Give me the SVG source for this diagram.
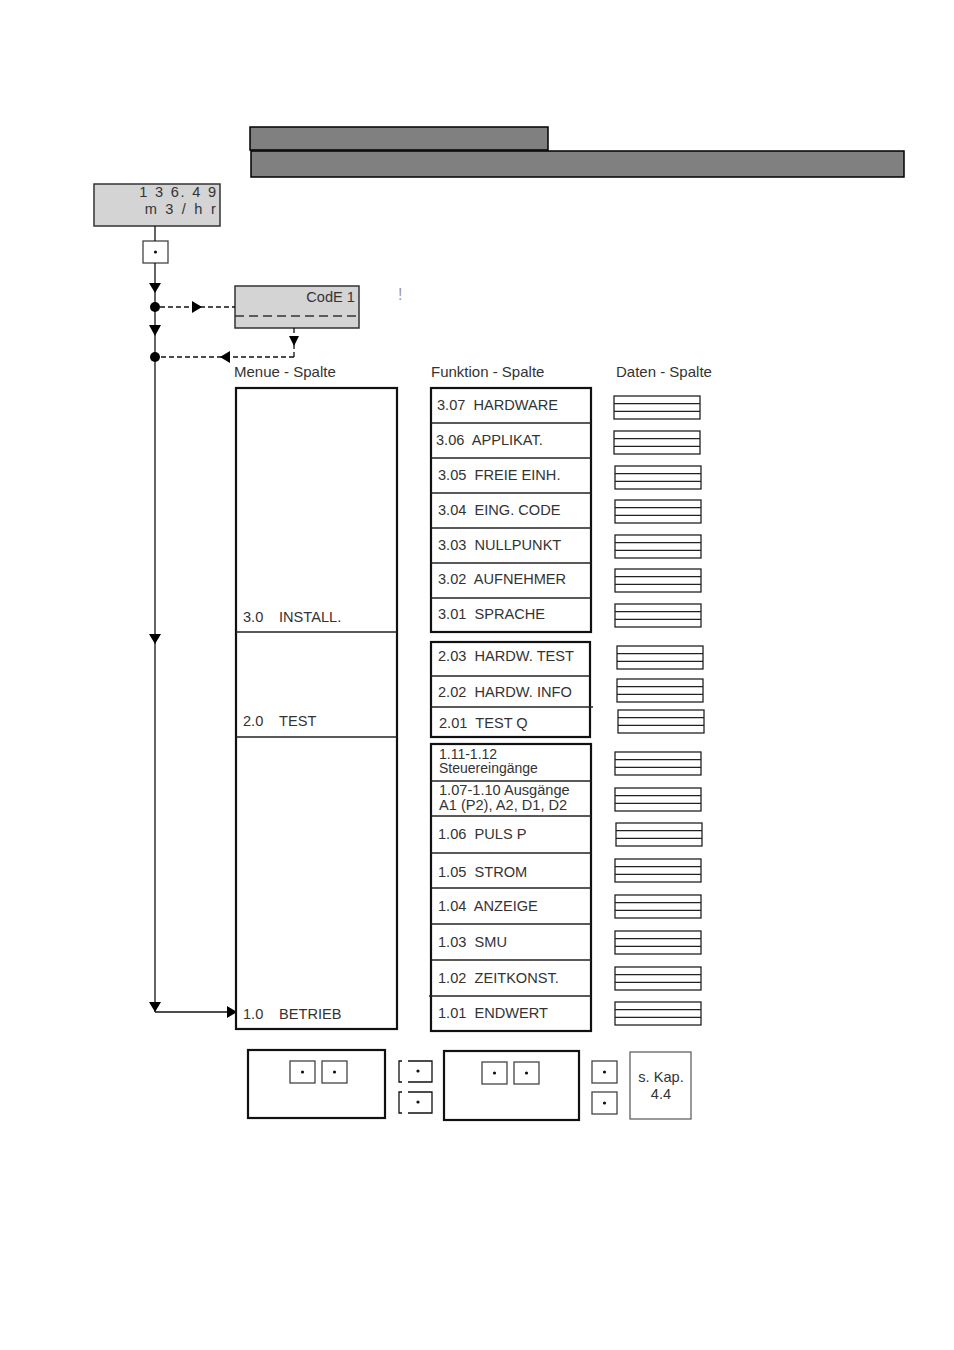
<svg xmlns="http://www.w3.org/2000/svg" width="954" height="1350" viewBox="0 0 954 1350">
<style>
text{font-family:"Liberation Sans",Arial,sans-serif;font-size:14.6px;fill:#333}
.lbl{font-size:15px}
.sm{font-size:14px}
.bar{fill:#808080;stroke:#000;stroke-width:1.5}
.disp{fill:#d4d4d4;stroke:#333;stroke-width:1.5}
.col{fill:#fff;stroke:#111;stroke-width:2.2}
.div{stroke:#222;stroke-width:1.3;fill:none}
.data{fill:#fff;stroke:#222;stroke-width:1.3}
.key{fill:#fff;stroke:#444;stroke-width:1.3}
.ln{stroke:#111;stroke-width:1.3;fill:none}
.dash{stroke:#111;stroke-width:1.3;fill:none;stroke-dasharray:5 3}
.ah{fill:#000}
</style>
<defs>
<g id="db"><rect class="data" x="0" y="0" width="86" height="23"/><line class="div" x1="0" y1="7.7" x2="86" y2="7.7"/><line class="div" x1="0" y1="15.3" x2="86" y2="15.3"/></g>
<g id="kb"><rect class="key" x="0" y="0" width="25" height="22"/><circle cx="12.5" cy="11" r="1.6" fill="#111"/></g>
</defs>

<g id="header">
<rect class="bar" x="250" y="127" width="298" height="23"/>
<rect class="bar" x="251" y="151" width="653" height="26"/>
</g>

<g id="display">
<rect class="disp" x="94" y="184" width="126" height="42"/>
<text x="218" y="197" text-anchor="end" xml:space="preserve" style="letter-spacing:1.8px">1 3 6. 4 9</text>
<text x="218" y="214" text-anchor="end" xml:space="preserve" style="letter-spacing:2.2px">m 3 / h r</text>
</g>

<g id="key-top"><use href="#kb" x="143" y="241"/></g>

<g id="code">
<rect class="disp" x="235" y="286" width="124" height="42"/>
<line x1="235" y1="316" x2="359" y2="316" stroke="#333" stroke-width="1.3" stroke-dasharray="9 5"/>
<text x="355" y="302" text-anchor="end">CodE 1</text>
</g>
<text x="398" y="300" style="font-size:16px;fill:#999">!</text>

<g id="connectors">
<line class="ln" x1="155" y1="226" x2="155" y2="241"/>
<line class="ln" x1="155" y1="263" x2="155" y2="1012"/>
<line class="ln" x1="155" y1="1012" x2="230" y2="1012"/>
<polygon class="ah" points="149,283 161,283 155,293"/>
<polygon class="ah" points="149,325 161,325 155,336"/>
<polygon class="ah" points="149,634 161,634 155,644"/>
<polygon class="ah" points="149,1002 161,1002 155,1012"/>
<polygon class="ah" points="227,1006 237,1012 227,1018"/>
<circle cx="155" cy="307" r="5" fill="#000"/>
<circle cx="155" cy="357" r="5" fill="#000"/>
<line class="dash" x1="160" y1="307" x2="235" y2="307"/>
<polygon class="ah" points="192,301 202,307 192,313"/>
<line class="dash" x1="294" y1="328" x2="294" y2="357"/>
<polygon class="ah" points="289,336 299,336 294,346"/>
<line class="dash" x1="294" y1="357" x2="160" y2="357"/>
<polygon class="ah" points="230,351 220,357 230,363"/>
</g>

<g id="labels">
<text class="lbl" x="234" y="377">Menue - Spalte</text>
<text class="lbl" x="431" y="377">Funktion - Spalte</text>
<text class="lbl" x="616" y="377">Daten - Spalte</text>
</g>

<g id="menu">
<rect class="col" x="236" y="388" width="161" height="641"/>
<line class="div" x1="236" y1="632" x2="397" y2="632"/>
<line class="div" x1="236" y1="737" x2="397" y2="737"/>
<text x="243" y="622">3.0</text><text x="279" y="622">INSTALL.</text>
<text x="243" y="726">2.0</text><text x="279" y="726">TEST</text>
<text x="243" y="1019">1.0</text><text x="279" y="1019">BETRIEB</text>
</g>

<g id="func3">
<rect class="col" x="431" y="388" width="160" height="244"/>
<line class="div" x1="431" y1="423" x2="591" y2="423"/>
<line class="div" x1="431" y1="458" x2="591" y2="458"/>
<line class="div" x1="431" y1="493" x2="591" y2="493"/>
<line class="div" x1="431" y1="528" x2="591" y2="528"/>
<line class="div" x1="431" y1="563" x2="591" y2="563"/>
<line class="div" x1="431" y1="598" x2="591" y2="598"/>
<text x="437" y="410" xml:space="preserve">3.07  HARDWARE</text>
<text x="436" y="445" xml:space="preserve">3.06  APPLIKAT.</text>
<text x="438" y="480" xml:space="preserve">3.05  FREIE EINH.</text>
<text x="438" y="515" xml:space="preserve">3.04  EING. CODE</text>
<text x="438" y="550" xml:space="preserve">3.03  NULLPUNKT</text>
<text x="438" y="584" xml:space="preserve">3.02  AUFNEHMER</text>
<text x="438" y="619" xml:space="preserve">3.01  SPRACHE</text>
</g>

<g id="func2">
<rect class="col" x="431" y="642" width="159" height="95"/>
<line class="div" x1="431" y1="676" x2="590" y2="676"/>
<line class="div" x1="431" y1="707" x2="593" y2="707"/>
<text x="438" y="661" xml:space="preserve">2.03  HARDW. TEST</text>
<text x="438" y="697" xml:space="preserve">2.02  HARDW. INFO</text>
<text x="439" y="728" xml:space="preserve">2.01  TEST Q</text>
</g>

<g id="func1">
<rect class="col" x="431" y="744" width="160" height="287"/>
<line class="div" x1="431" y1="781" x2="591" y2="781"/>
<line class="div" x1="431" y1="816" x2="591" y2="816"/>
<line class="div" x1="431" y1="853" x2="591" y2="853"/>
<line class="div" x1="431" y1="888" x2="591" y2="888"/>
<line class="div" x1="431" y1="924" x2="591" y2="924"/>
<line class="div" x1="431" y1="960" x2="591" y2="960"/>
<line class="div" x1="429" y1="996" x2="591" y2="996"/>
<text class="sm" x="439" y="759">1.11-1.12</text>
<text class="sm" x="439" y="773">Steuereingänge</text>
<text class="sm" x="439" y="795" style="font-size:14.6px">1.07-1.10 Ausgänge</text>
<text class="sm" x="439" y="810" style="font-size:14.6px">A1 (P2), A2, D1, D2</text>
<text x="438" y="839" xml:space="preserve">1.06  PULS P</text>
<text x="438" y="877" xml:space="preserve">1.05  STROM</text>
<text x="438" y="911" xml:space="preserve">1.04  ANZEIGE</text>
<text x="438" y="947" xml:space="preserve">1.03  SMU</text>
<text x="438" y="983" xml:space="preserve">1.02  ZEITKONST.</text>
<text x="438" y="1018" xml:space="preserve">1.01  ENDWERT</text>
</g>

<g id="data">
<use href="#db" x="614" y="396"/>
<use href="#db" x="614" y="431"/>
<use href="#db" x="615" y="466"/>
<use href="#db" x="615" y="500"/>
<use href="#db" x="615" y="535"/>
<use href="#db" x="615" y="569"/>
<use href="#db" x="615" y="604"/>
<use href="#db" x="617" y="646"/>
<use href="#db" x="617" y="679"/>
<use href="#db" x="618" y="710"/>
<use href="#db" x="615" y="752"/>
<use href="#db" x="615" y="788"/>
<use href="#db" x="616" y="823"/>
<use href="#db" x="615" y="859"/>
<use href="#db" x="615" y="895"/>
<use href="#db" x="615" y="931"/>
<use href="#db" x="615" y="967"/>
<use href="#db" x="615" y="1002"/>
</g>

<g id="keys-1">
<rect class="col" x="248" y="1050" width="137" height="68"/>
<use href="#kb" x="290" y="1061"/>
<use href="#kb" x="322" y="1061"/>
</g>
<g id="keys-2">
<path class="ln" d="M402,1061 H399 V1082 H402 M408,1061 H432 V1082 H408"/>
<circle cx="418" cy="1071" r="1.6" fill="#111"/>
<path class="ln" d="M402,1092 H399 V1113 H402 M408,1092 H432 V1113 H408"/>
<circle cx="418" cy="1102" r="1.6" fill="#111"/>
</g>
<g id="keys-3">
<rect class="col" x="444" y="1051" width="135" height="69"/>
<use href="#kb" x="482" y="1062"/>
<use href="#kb" x="514" y="1062"/>
</g>
<g id="keys-4">
<use href="#kb" x="592" y="1061"/>
<use href="#kb" x="592" y="1092"/>
</g>
<g id="kap">
<rect x="630" y="1052" width="61" height="67" fill="#fff" stroke="#555" stroke-width="1.2"/>
<text x="661" y="1082" text-anchor="middle">s. Kap.</text>
<text x="661" y="1099" text-anchor="middle">4.4</text>
</g>
</svg>
